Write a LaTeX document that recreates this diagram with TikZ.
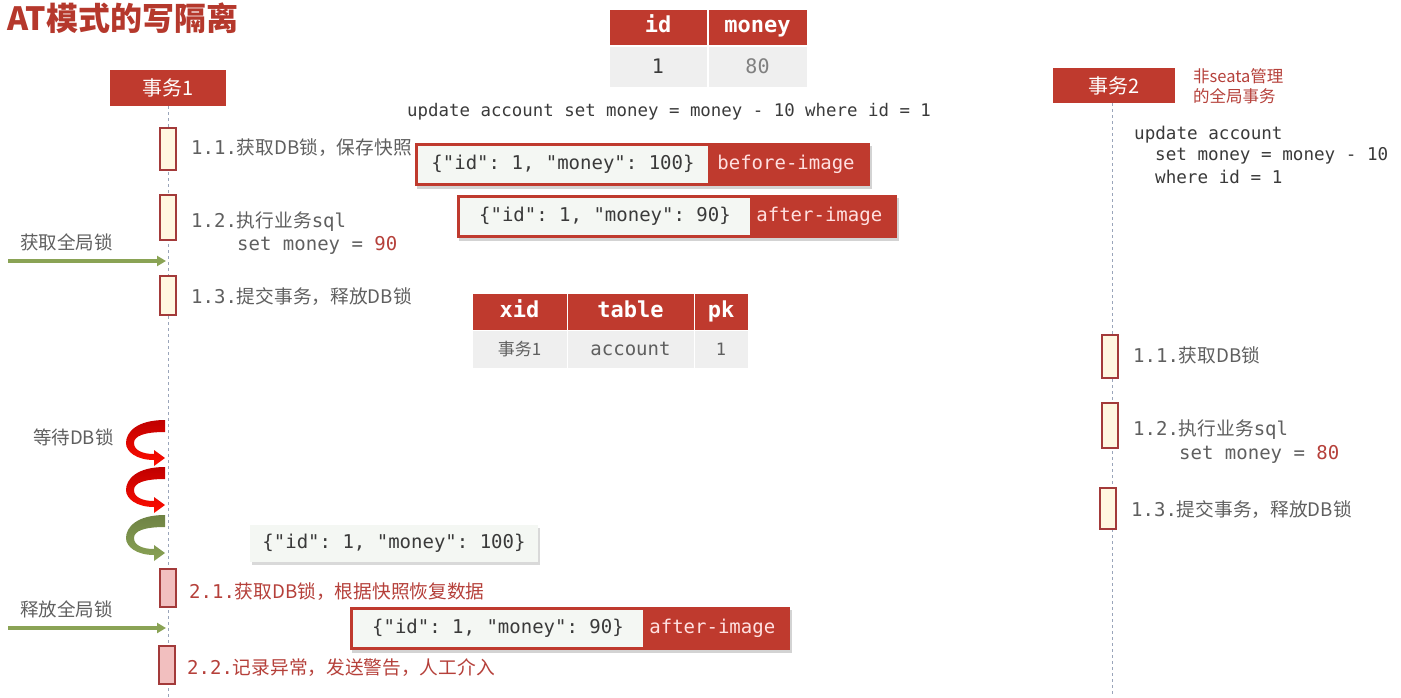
\documentclass[tikz,border=0pt]{standalone}
\usepackage{fontspec}
\setmonofont{DejaVu Sans Mono}
\newfontfamily\cjk{Noto Sans CJK SC}
\usetikzlibrary{arrows.meta,shadows,positioning}

\definecolor{hdred}{HTML}{BF3A2E}
\definecolor{titlered}{HTML}{B5382C}
\definecolor{boxred}{HTML}{A33A3A}
\definecolor{cream}{HTML}{FFF7E1}
\definecolor{pinkfill}{HTML}{F2BFBF}
\definecolor{lineblue}{HTML}{9AA5BA}
\definecolor{txtgray}{HTML}{5F5F5F}
\definecolor{codegray}{HTML}{3A3A3A}
\definecolor{redtxt}{HTML}{B5403A}
\definecolor{jsonfill}{HTML}{F4F7F3}
\definecolor{cellgray}{HTML}{EFEFEF}
\definecolor{olive}{HTML}{8AA355}

\newcommand\zh[1]{{\cjk\fontsize{18.7}{22}\selectfont #1}}
\newcommand\stepfont{\fontsize{19}{23}\selectfont\ttfamily}
\newcommand\jsonfont{\fontsize{19}{23}\selectfont\ttfamily}

% curved "wait" arrow, #1 = top y, #2 = top colour, #3 = bottom colour
\newcommand\waitarrow[3]{%
  \shade[top color=#2, bottom color=#3, shift={(165,#1)}]
    (0,0) .. controls (-28,0) and (-39,12) .. (-39,23)
    .. controls (-39,32) and (-28,40) .. (-11,40) -- (-11,46) -- (0,38)
    -- (-11,30) -- (-11,34) .. controls (-23,34) and (-31,30) .. (-31,23)
    .. controls (-31,16) and (-21,12) .. (0,12) -- cycle;
}

\tikzset{
  lifehead/.style={fill=hdred, text=white, inner sep=0, font=\cjk\fontsize{20}{24}\selectfont},
  lifeline/.style={draw=lineblue, dashed, line width=0.8pt},
  actbox/.style={draw=boxred, fill=cream, line width=1.2pt, minimum width=16pt, inner sep=0},
  undobox/.style={actbox, fill=pinkfill},
  steptext/.style={anchor=west, inner sep=0, text=txtgray, font=\stepfont},
  undotext/.style={steptext, text=redtxt},
  sidetext/.style={anchor=west, inner sep=0, text=txtgray, font=\cjk\fontsize{18.5}{22}\selectfont},
  codetext/.style={anchor=west, inner sep=0, text=codegray},
  hcell/.style={fill=hdred, draw=white, line width=1pt, text=white, inner sep=0,
    text height=16pt, text depth=5pt,
    font=\fontsize{22}{26}\selectfont\ttfamily\bfseries},
  dcell/.style={fill=cellgray, draw=white, line width=1pt, text=txtgray, inner sep=0,
    font=\fontsize{20}{24}\selectfont\ttfamily},
  imgtag/.style={fill=hdred, inner sep=0, minimum width=440pt, minimum height=43pt,
    drop shadow={shadow xshift=2pt, shadow yshift=-3pt, opacity=0.35}},
  jsonbox/.style={fill=jsonfill, inner sep=0, minimum width=290pt, minimum height=37pt,
    text=codegray, font=\jsonfont},
  tagtext/.style={anchor=west, inner sep=0, text=white!88!red, font=\jsonfont},
  lockarrow/.style={draw=olive, line width=3.2pt, -{Triangle[length=9pt,width=10pt]}}
}

\begin{document}
\begin{tikzpicture}[x=1pt, y=-1pt]
  \useasboundingbox (0,0) rectangle (1401,697);

  % Title
  \node[anchor=west, inner sep=0, text=titlered,
    font=\cjk\bfseries\fontsize{32}{36}\selectfont] (title) at (7,18) {AT模式的写隔离};

  % Lifelines
  \node[lifehead, minimum width=116pt, minimum height=36pt] (tx1) at (168,88) {事务1};
  \node[lifehead, minimum width=122pt, minimum height=35pt] (tx2) at (1114,85.5) {事务2};
  \coordinate (tx1end) at (168,697);
  \coordinate (tx2end) at (1112,697);
  \draw[lifeline] (tx1) -- (tx1end);
  \draw[lifeline] (tx2.south -| tx2end) -- (tx2end);

  \node[anchor=west, inner sep=0, text=redtxt, align=left,
    font=\cjk\fontsize{16.5}{20}\selectfont] (note2) at (1193,86) {非seata管理\\的全局事务};

  % Data table
  \node[hcell, minimum width=98pt, minimum height=36pt] (hid) at (658,27) {id};
  \node[hcell, minimum width=99pt, minimum height=36pt] (hmoney) at (757.5,27) {money};
  \node[dcell, minimum width=98pt, minimum height=41pt, text=codegray] (did) at (658,66.5) {1};
  \node[dcell, minimum width=99pt, minimum height=41pt, text=gray] (dmoney) at (757.5,66.5) {80};

  \node[codetext, font=\fontsize{17.4}{21}\selectfont\ttfamily] (sql1) at (407,112)
    {update account set money = money - 10 where id = 1};

  % Transaction 1
  \node[actbox, minimum height=42pt] (a11) at (168,149) {};
  \node[actbox, minimum height=45pt] (a12) at (168,217.5) {};
  \node[actbox, minimum height=39pt] (a13) at (168,295.5) {};
  \node[steptext] (s11) at (191,148) {1.1.\zh{获取DB锁，保存快照}};
  \node[steptext] (s12) at (191,222) {1.2.\zh{执行业务}sql};
  \node[steptext] (s12b) at (237,245) {set money = {\color{redtxt}90}};
  \node[steptext] (s13) at (191,297) {1.3.\zh{提交事务，释放DB锁}};

  \node[sidetext] (getlock) at (20,242) {获取全局锁};
  \coordinate (g1) at (8,261);
  \coordinate (g1end) at (166,261);
  \draw[lockarrow] (g1) -- (g1end);

  % Undo log
  \node[imgtag, minimum width=455pt] (before) at (642.5,164.5) {};
  \node[jsonbox, anchor=west] (bjson) at ([xshift=3pt]before.west) {\{"id": 1, "money": 100\}};
  \node[tagtext] (btag) at ([xshift=9pt]bjson.east) {before-image};

  \node[imgtag] (after) at (677,216.5) {};
  \node[jsonbox, anchor=west] (ajson) at ([xshift=3pt]after.west) {\{"id": 1, "money": 90\}};
  \node[tagtext] (atag) at ([xshift=6pt]ajson.east) {after-image};

  % Global lock table
  \node[hcell, minimum width=95pt, minimum height=37pt] (hxid) at (519.5,311.5) {xid};
  \node[hcell, minimum width=127pt, minimum height=37pt] (htable) at (630.5,311.5) {table};
  \node[hcell, minimum width=54pt, minimum height=37pt] (hpk) at (721,311.5) {pk};
  \node[dcell, minimum width=95pt, minimum height=38pt,
    font=\cjk\fontsize{17}{20}\selectfont] (dxid) at (519.5,349) {事务1};
  \node[dcell, minimum width=127pt, minimum height=38pt,
    font=\fontsize{19}{23}\selectfont\ttfamily] (dtable) at (630.5,349) {account};
  \node[dcell, minimum width=54pt, minimum height=38pt,
    font=\fontsize{17}{20}\selectfont\ttfamily] (dpk) at (721,349) {1};

  % Transaction 2
  \node[codetext, font=\fontsize{17.6}{21}\selectfont\ttfamily] (sql2a) at (1134,135) {update account};
  \node[codetext, font=\fontsize{17.6}{21}\selectfont\ttfamily] (sql2b) at (1155,156) {set money = money - 10};
  \node[codetext, font=\fontsize{17.6}{21}\selectfont\ttfamily] (sql2c) at (1155,177) {where id = 1};

  \node[actbox, minimum height=43pt] (b11) at (1110,356.5) {};
  \node[actbox, minimum height=45pt] (b12) at (1110,425.5) {};
  \node[actbox, minimum height=41pt] (b13) at (1108,508.5) {};
  \node[steptext] (t11) at (1133,355) {1.1.\zh{获取DB锁}};
  \node[steptext] (t12) at (1133,430) {1.2.\zh{执行业务}sql};
  \node[steptext] (t12b) at (1179,454) {set money = {\color{redtxt}80}};
  \node[steptext] (t13) at (1131,510) {1.3.\zh{提交事务，释放DB锁}};

  % Waiting for DB lock
  \node[sidetext] (wait) at (33,437) {等待DB锁};
  \waitarrow{420}{red!75!black}{red!90!orange}
  \waitarrow{467}{red!75!black}{red!90!orange}
  \waitarrow{515}{olive!80!black}{olive}

  % Rollback
  \node[jsonbox, minimum width=288pt, drop shadow={shadow xshift=2pt, shadow yshift=-3pt, opacity=0.3}]
    (rjson) at (394,543.5) {\{"id": 1, "money": 100\}};

  \node[undobox, minimum height=38pt] (u21) at (168,588) {};
  \node[undotext] (r21) at (189,592) {2.1.\zh{获取DB锁，根据快照恢复数据}};

  \node[sidetext] (rellock) at (20,609) {释放全局锁};
  \coordinate (g2) at (8,628);
  \coordinate (g2end) at (166,628);
  \draw[lockarrow] (g2) -- (g2end);

  \node[imgtag] (after2) at (570,628.5) {};
  \node[jsonbox, anchor=west] (a2json) at ([xshift=3pt]after2.west) {\{"id": 1, "money": 90\}};
  \node[tagtext] (a2tag) at ([xshift=6pt]a2json.east) {after-image};

  \node[undobox, minimum height=38pt] (u22) at (167,665) {};
  \node[undotext] (r22) at (187,668) {2.2.\zh{记录异常，发送警告，人工介入}};
\end{tikzpicture}
\end{document}
